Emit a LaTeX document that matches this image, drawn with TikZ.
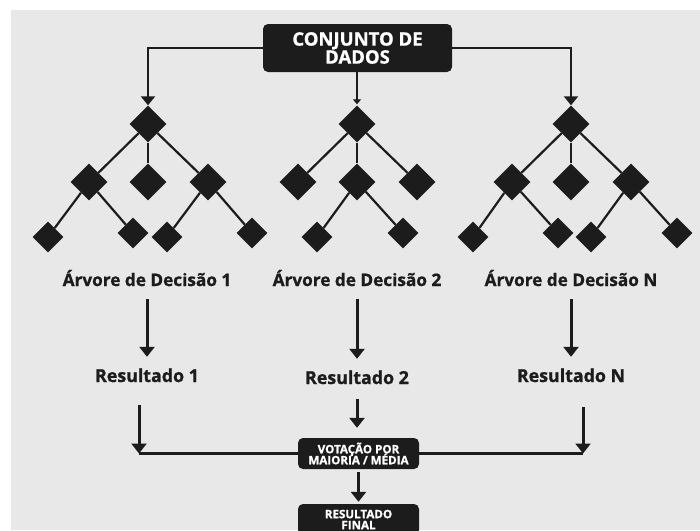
\documentclass[tikz,border=0pt]{standalone}
\usepackage{fontspec}
\setmainfont{Open Sans}[BoldFeatures={FakeBold=1}]
\usetikzlibrary{shapes.geometric,arrows.meta}
\definecolor{bg}{HTML}{E8E8E8}
\definecolor{ink}{HTML}{1C1C1C}
\newcommand\mytightlines{\lineskiplimit=-20pt\relax\lineskip=0pt\relax}
\begin{document}
\begin{tikzpicture}[x=1pt,y=-1pt,
  dnode/.style={diamond, fill=ink, inner sep=0pt, minimum size=37pt},
  leaf/.style={dnode, minimum size=31pt},
  edge/.style={draw=ink, line width=2.2pt},
  arr/.style={draw=ink, line width=3pt, -{Triangle[width=15pt,length=10pt]}},
  sidearr/.style={draw=ink, line width=2.3pt, -{Triangle[width=14pt,length=9pt]}},
  midarr/.style={draw=ink, line width=1.6pt, -{Triangle[width=8pt,length=5pt]}},
  hline/.style={draw=ink, line width=2.4pt},
  lbl/.style={font=\fontsize{17.2}{18}\selectfont\bfseries, text=ink, inner sep=0pt, text height=12pt, text depth=0pt, anchor=base},
  rlbl/.style={lbl, font=\fontsize{17.8}{18}\selectfont\bfseries},
  darkbox/.style={fill=ink, rounded corners=5pt, text=white, align=center, inner sep=0pt},
  smallbox/.style={darkbox, minimum width=121pt, minimum height=31pt, font=\fontsize{11.6}{11}\selectfont\bfseries\mytightlines}
]
\useasboundingbox (0,0) rectangle (700,530);
\clip (0,0) rectangle (700,530);
\fill[white] (0,0) rectangle (700,530);
\fill[bg] (11,10) rectangle (700,530);

% top box
\node[darkbox, minimum width=189pt, minimum height=48pt, font=\fontsize{18.5}{18}\selectfont\bfseries\mytightlines] (top) at (357.5,48) {CONJUNTO DE\\DADOS};

% tree 1
\node[dnode] (t1r) at (148,124) {};
\node[dnode] (t1a) at (89,182) {};
\node[dnode] (t1b) at (148,182) {};
\node[dnode] (t1c) at (208,182) {};
\node[leaf] (t1a1) at (48,237) {};
\node[leaf] (t1a2) at (133,233) {};
\node[leaf] (t1c1) at (167,237) {};
\node[leaf] (t1c2) at (252,233) {};
\draw[edge] (t1r) -- (t1a); \draw[edge] (t1r) -- (t1b); \draw[edge] (t1r) -- (t1c);
\draw[edge] (t1a) -- (t1a1); \draw[edge] (t1a) -- (t1a2);
\draw[edge] (t1c) -- (t1c1); \draw[edge] (t1c) -- (t1c2);

% tree 2
\node[dnode] (t2r) at (357,124) {};
\node[dnode] (t2a) at (298,182) {};
\node[dnode] (t2b) at (357,182) {};
\node[dnode] (t2c) at (417,182) {};
\node[leaf] (t2b1) at (317,237) {};
\node[leaf] (t2b2) at (403,233) {};
\draw[edge] (t2r) -- (t2a); \draw[edge] (t2r) -- (t2b); \draw[edge] (t2r) -- (t2c);
\draw[edge] (t2b) -- (t2b1); \draw[edge] (t2b) -- (t2b2);

% tree 3
\node[dnode] (t3r) at (571,124) {};
\node[dnode] (t3a) at (512,182) {};
\node[dnode] (t3b) at (571,182) {};
\node[dnode] (t3c) at (631,182) {};
\node[leaf] (t3a1) at (473,237) {};
\node[leaf] (t3a2) at (558,233) {};
\node[leaf] (t3c1) at (591,237) {};
\node[leaf] (t3c2) at (677,233) {};
\draw[edge] (t3r) -- (t3a); \draw[edge] (t3r) -- (t3b); \draw[edge] (t3r) -- (t3c);
\draw[edge] (t3a) -- (t3a1); \draw[edge] (t3a) -- (t3a2);
\draw[edge] (t3c) -- (t3c1); \draw[edge] (t3c) -- (t3c2);

% top connectors
\draw[sidearr] (top.west) -| (t1r.north);
\draw[sidearr] (top.east) -| (t3r.north);
\draw[midarr, shorten >=1pt] (top.south -| t2r.north) -- (t2r.north);

% labels
\node[lbl] (a1) at (147,286) {Árvore de Decisão 1};
\node[lbl] (a2) at (357,286) {Árvore de Decisão 2};
\node[lbl] (aN) at (571,286) {Árvore de Decisão N};
\node[rlbl] (r1) at (147,382) {Resultado 1};
\node[rlbl] (r2) at (357,384) {Resultado 2};
\node[rlbl] (rN) at (571,382) {Resultado N};

\draw[arr, shorten <=13pt, shorten >=13pt] (a1.south) -- (r1.north);
\draw[arr, shorten <=13pt, shorten >=13pt] (a2.south) -- (r2.north);
\draw[arr, shorten <=13pt, shorten >=13pt] (aN.south) -- (rN.north);

% voting
\node[smallbox] (vote) at (358.5,453.5) {VOTAÇÃO POR\\MAIORIA / MÉDIA};
\node[smallbox] (final) at (358.5,519.5) {RESULTADO\\FINAL};

\coordinate (j1) at (139,453.5);
\coordinate (j3) at (583,453.5);
\draw[hline] (vote.west) -- (j1);
\draw[hline] (vote.east) -- (j3);
\draw[arr, shorten <=23pt] (r1.south -| j1) -- (j1);
\draw[arr, shorten <=25pt] (rN.south -| j3) -- (j3);
\draw[arr, shorten <=15pt, shorten >=10pt] (r2.south) -- (r2.south |- vote.north);
\draw[arr, shorten <=3pt, shorten >=2pt] (vote.south) -- (vote.south |- final.north);
\end{tikzpicture}
\end{document}
